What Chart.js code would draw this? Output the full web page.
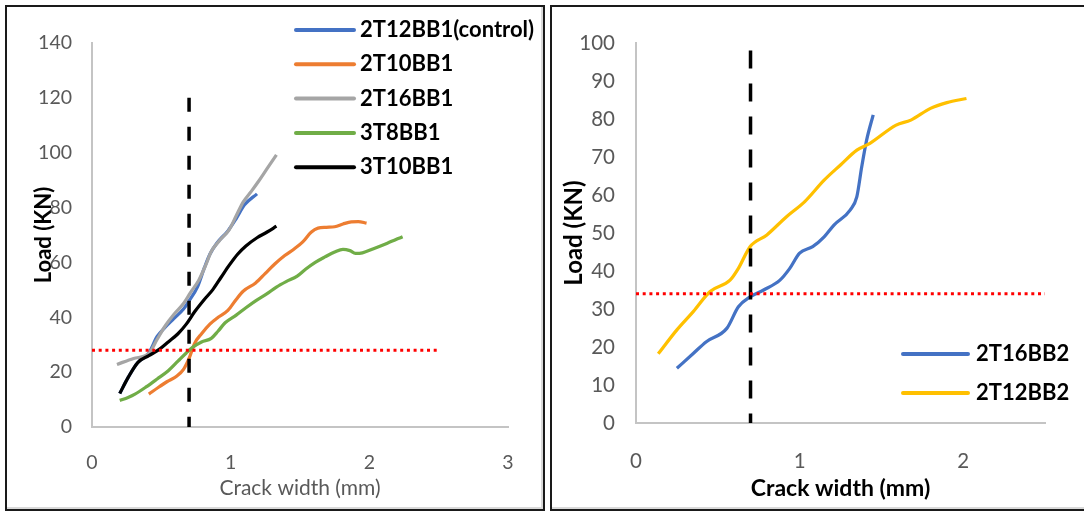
<!DOCTYPE html>
<html>
<head>
<meta charset="utf-8">
<script src="https://cdn.jsdelivr.net/npm/chart.js@4.4.1/dist/chart.umd.min.js"></script>
<style>
    body   { margin: 0; width: 1084px; height: 512px; background: #fff; position: relative; overflow: hidden; }
    .box   { position: absolute; top: 0; height: 512px; }
    .panel { position: absolute; top: 5px; height: 506px; box-sizing: border-box;
             border: 2px solid #1a1a1a; box-shadow: inset -2px -2px 0 #d9d9d9; pointer-events: none; }
</style>
</head>
<body>
<div class="box" style="left:0;width:547px"><canvas id="chart-bb1"></canvas></div>
<div class="box" style="left:547px;width:537px"><canvas id="chart-bb2"></canvas></div>
<div class="panel" style="left:5px;width:540px"></div>
<div class="panel" style="left:550px;width:600px"></div>

<script>
// ───────────────────────── DATA : GROUP BB1 (left) ─────────────────────────
const bb1Names = ["2T12BB1(control)", "2T10BB1", "2T16BB1", "3T8BB1", "3T10BB1"];

const ctrlX = [0.20, 0.26, 0.33, 0.41, 0.47, 0.53, 0.59, 0.66, 0.70, 0.76, 0.81, 0.85, 0.90, 0.98, 1.04, 1.10, 1.19];
const ctrlY = [12.2, 18.0, 23.5, 27.0, 33.0, 36.5, 39.5, 43.0, 46.0, 51.0, 58.0, 63.0, 67.0, 71.5, 76.0, 81.0, 85.0];

const t10X  = [0.41, 0.48, 0.54, 0.61, 0.66, 0.70, 0.74, 0.79, 0.85, 0.91, 0.98, 1.04, 1.09, 1.18, 1.25, 1.32, 1.39, 1.46, 1.52, 1.58, 1.63, 1.69, 1.75, 1.81, 1.87, 1.92, 1.98];
const t10Y  = [12.0, 14.5, 16.5, 18.5, 21.0, 25.0, 30.5, 34.0, 37.5, 40.0, 42.5, 46.5, 49.5, 52.5, 56.0, 59.5, 62.5, 65.0, 67.5, 71.0, 72.5, 72.8, 73.0, 74.0, 74.8, 74.9, 74.3];

const t16X  = [0.18, 0.30, 0.41, 0.47, 0.53, 0.59, 0.66, 0.71, 0.77, 0.82, 0.86, 0.92, 0.99, 1.04, 1.09, 1.15, 1.20, 1.26, 1.33];
const t16Y  = [22.8, 25.0, 26.8, 32.0, 37.0, 41.0, 45.0, 49.0, 53.5, 59.0, 64.0, 68.0, 72.0, 77.0, 82.0, 86.0, 89.5, 94.0, 99.2];

const t3t8X = [0.20, 0.26, 0.31, 0.39, 0.47, 0.55, 0.62, 0.68, 0.73, 0.79, 0.86, 0.91, 0.96, 1.04, 1.11, 1.18, 1.26, 1.33, 1.40, 1.48, 1.54, 1.61, 1.68, 1.75, 1.81, 1.86, 1.90, 1.95, 2.03, 2.13, 2.24];
const t3t8Y = [9.7, 10.8, 12.0, 14.6, 17.5, 20.5, 24.0, 27.0, 29.2, 31.0, 32.3, 35.0, 38.0, 40.8, 43.5, 46.0, 48.5, 51.0, 53.0, 55.0, 57.5, 60.0, 62.0, 63.8, 64.8, 64.3, 63.3, 63.5, 65.0, 67.0, 69.4];

const t3t10X = [0.20, 0.26, 0.33, 0.41, 0.49, 0.55, 0.62, 0.68, 0.74, 0.81, 0.87, 0.93, 0.99, 1.05, 1.11, 1.19, 1.26, 1.33];
const t3t10Y = [12.2, 18.0, 23.5, 26.0, 28.5, 31.0, 34.0, 37.5, 42.0, 46.5, 50.0, 54.5, 59.0, 63.0, 66.0, 69.0, 71.0, 73.2];

const bb1CrackLimit = 0.7;   // vertical dashed line (mm)
const bb1CrackTop   = 120;   // its top (kN)
const bb1LoadRef    = 28;    // red dotted line (kN)
const bb1RefEnd     = 2.5;   // red dotted line end (mm)

const bb1XTicks = [0, 1, 2, 3];
const bb1YTicks = [0, 20, 40, 60, 80, 100, 120, 140];

// ───────────────────────── DATA : GROUP BB2 (right) ─────────────────────────
const bb2Names = ["2T16BB2", "2T12BB2"];

const t16b2X = [0.25, 0.35, 0.43, 0.555, 0.626, 0.697, 0.78, 0.88, 0.94, 1.00, 1.08, 1.15, 1.21, 1.31, 1.35, 1.38, 1.41, 1.45];
const t16b2Y = [14.4, 18.3, 21.4, 24.9, 30.6, 33.2, 35.0, 37.6, 40.7, 44.7, 46.4, 49.0, 52.1, 56.1, 59.6, 67.5, 74.5, 81.1];

const t12b2X = [0.136, 0.25, 0.35, 0.453, 0.575, 0.626, 0.697, 0.80, 0.92, 1.03, 1.15, 1.25, 1.35, 1.43, 1.59, 1.68, 1.80, 1.90, 2.02];
const t12b2Y = [18.2, 24.5, 29.3, 34.6, 37.6, 40.7, 46.4, 49.5, 54.3, 58.2, 63.9, 67.9, 71.8, 73.6, 78.4, 79.7, 82.8, 84.3, 85.4];

const bb2CrackLimit = 0.7;
const bb2CrackTop   = 98;
const bb2LoadRef    = 34;
const bb2RefEnd     = 2.5;

const bb2XTicks = [0, 1, 2];
const bb2YTicks = [0, 10, 20, 30, 40, 50, 60, 70, 80, 90, 100];

// ───────────────────────── HELPERS ─────────────────────────
const FONT = "Lato";
const pts  = (xs, ys) => xs.map((x, i) => ({ x, y: ys[i] }));

function curve(label, xs, ys, color, order) {
    return {
        label, data: pts(xs, ys), order,
        borderColor: color, borderWidth: 3.25,
        showLine: true, pointRadius: 0, cubicInterpolationMode: "monotone"
    };
}
function refLine(data, color, dash, width) {
    return { label: "", data, order: 0, borderColor: color, borderWidth: width,
             borderDash: dash, showLine: true, pointRadius: 0, tension: 0 };
}

// legend drawn with a line sample per named series (Excel style)
const lineLegend = {
    id: "lineLegend",
    afterDraw(chart, args, o) {
        const ctx = chart.ctx;
        ctx.save();
        ctx.font = o.font;
        ctx.textBaseline = "middle";
        ctx.fillStyle = "#000";
        let row = 0;
        chart.data.datasets.forEach(ds => {
            if (!ds.label) return;
            const y = o.y + row * o.dy;
            ctx.strokeStyle = ds.borderColor;
            ctx.lineWidth = 4;
            ctx.lineCap = "round";
            ctx.beginPath(); ctx.moveTo(o.x, y); ctx.lineTo(o.x + o.len, y); ctx.stroke();
            ctx.fillText(ds.label, o.x + o.len + o.gap, y);
            row++;
        });
        ctx.restore();
    }
};

function axes(c) {
    return {
        x: {
            type: "linear", min: 0, max: c.xMax,
            afterBuildTicks: s => { s.ticks = c.xTicks.map(v => ({ value: v })); },
            afterFit: s => { s.height = c.xH; },
            ticks: { padding: c.xPad, color: "#595959", font: { family: FONT, size: c.tick } },
            grid:  { display: false, drawTicks: false },
            border: { color: "#c4c4c4", width: 2 },
            title: { display: true, text: "Crack width (mm)", color: c.xTitleColor,
                     font: { family: FONT, size: c.xTitleSize, weight: c.xTitleWeight },
                     padding: { top: 0, bottom: c.xTitlePad } }
        },
        y: {
            type: "linear", min: 0, max: c.yMax,
            afterBuildTicks: s => { s.ticks = c.yTicks.map(v => ({ value: v })); },
            afterFit: s => { s.width = c.yW; },
            ticks: { padding: c.yPad, color: "#595959", font: { family: FONT, size: c.tick } },
            grid:  { display: false, drawTicks: false },
            border: { color: "#c4c4c4", width: 2 },
            title: { display: true, text: "Load (KN)", color: "#000",
                     font: { family: FONT, size: c.yTitleSize, weight: "bold" },
                     padding: { top: c.yTitlePad, bottom: 0 } }
        }
    };
}

// ───────────────────────── CHART BB1 ─────────────────────────
new Chart(document.getElementById("chart-bb1"), {
    type: "scatter",
    data: {
        datasets: [
            curve(bb1Names[0], ctrlX,  ctrlY,  "#4472C4", 5),
            curve(bb1Names[1], t10X,   t10Y,   "#ED7D31", 4),
            curve(bb1Names[2], t16X,   t16Y,   "#A5A5A5", 3),
            curve(bb1Names[3], t3t8X,  t3t8Y,  "#70AD47", 2),
            curve(bb1Names[4], t3t10X, t3t10Y, "#000000", 1),
            refLine([{ x: 0, y: bb1LoadRef }, { x: bb1RefEnd, y: bb1LoadRef }], "#ff0000", [3, 3.7], 3),
            refLine([{ x: bb1CrackLimit, y: bb1CrackTop }, { x: bb1CrackLimit, y: 0 }], "#000000", [14, 15], 3.5)
        ]
    },
    options: {
        responsive: true, maintainAspectRatio: false, animation: false,
        layout: { padding: { left: 0, right: 39, top: 43, bottom: 0 } },
        scales: axes({ xMax: 3, yMax: 140, xTicks: bb1XTicks, yTicks: bb1YTicks,
                       xH: 85, yW: 92, xPad: 24, yPad: 20, tick: 19.5,
                       xTitleColor: "#595959", xTitleSize: 21, xTitleWeight: "normal", xTitlePad: 11,
                       yTitleSize: 22, yTitlePad: 31 }),
        plugins: {
            legend:  { display: false },
            tooltip: { enabled: false },
            lineLegend: { x: 296, y: 30, dy: 34.3, len: 58, gap: 6, font: "bold 22px " + FONT }
        }
    },
    plugins: [lineLegend]
});

// ───────────────────────── CHART BB2 ─────────────────────────
new Chart(document.getElementById("chart-bb2"), {
    type: "scatter",
    data: {
        datasets: [
            curve(bb2Names[0], t16b2X, t16b2Y, "#4472C4", 2),
            curve(bb2Names[1], t12b2X, t12b2Y, "#FFC000", 1),
            refLine([{ x: 0, y: bb2LoadRef }, { x: bb2RefEnd, y: bb2LoadRef }], "#ff0000", [3, 3.7], 3),
            refLine([{ x: bb2CrackLimit, y: bb2CrackTop }, { x: bb2CrackLimit, y: 0 }], "#000000", [18, 15], 3.5)
        ]
    },
    options: {
        responsive: true, maintainAspectRatio: false, animation: false,
        layout: { padding: { left: 0, right: 39, top: 43, bottom: 0 } },
        scales: axes({ xMax: 2.5, yMax: 100, xTicks: bb2XTicks, yTicks: bb2YTicks,
                       xH: 89, yW: 89, xPad: 26, yPad: 21, tick: 20.5,
                       xTitleColor: "#000", xTitleSize: 23, xTitleWeight: "bold", xTitlePad: 10,
                       yTitleSize: 24, yTitlePad: 13 }),
        plugins: {
            legend:  { display: false },
            tooltip: { enabled: false },
            lineLegend: { x: 356, y: 354, dy: 39, len: 65, gap: 8, font: "bold 22px " + FONT }
        }
    },
    plugins: [lineLegend]
});
</script>
</body>
</html>
